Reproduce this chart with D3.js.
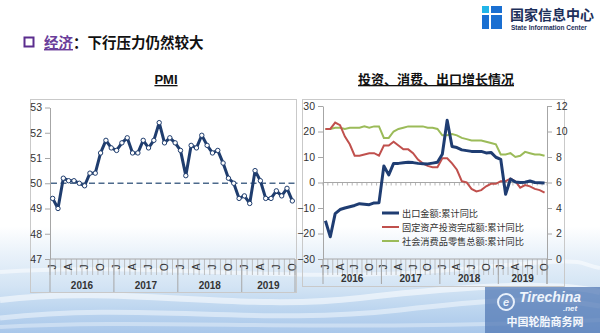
<!DOCTYPE html>
<html>
<head>
<meta charset="utf-8">
<script src="https://cdn.jsdelivr.net/npm/d3@7"></script>
<style>
  html, body { margin: 0; padding: 0; background: #fff; }
  svg { display: block; }
  text { font-family: "Liberation Sans", Arial, "Noto Sans CJK SC", sans-serif; }
  .cjk { font-family: "Noto Sans CJK SC", "Liberation Sans", sans-serif; }
</style>
</head>
<body>
<svg id="chart" width="600" height="333"></svg>
<script>
// ---- data: monthly, Jan 2016 – Oct 2019 ----
const years = ["2016", "2017", "2018", "2019"];
const quarterLabels = ["J", "A", "J", "O"];

// Manufacturing PMI
const pmi = [
  49.4, 49.0, 50.2, 50.1, 50.1, 50.0, 49.9, 50.4, 50.4, 51.2, 51.7, 51.4,
  51.3, 51.6, 51.8, 51.2, 51.2, 51.7, 51.4, 51.7, 52.4, 51.6, 51.8, 51.6,
  51.3, 50.3, 51.5, 51.4, 51.9, 51.5, 51.2, 51.3, 50.8, 50.2, 50.0, 49.4,
  49.5, 49.2, 50.5, 50.1, 49.4, 49.4, 49.7, 49.5, 49.8, 49.3
];
const pmiTicks = [47, 48, 49, 50, 51, 52, 53];

// Exports, cumulative YoY % (left axis)
const exportYoY = [
  -15.0, -21.3, -12.2, -10.6, -10.0, -9.5, -9.0, -8.3, -8.5, -8.7, -8.0, -7.9,
  6.5, 3.0, 7.5, 7.5, 7.7, 7.9, 7.8, 7.5, 7.4, 7.3, 7.6, 7.9,
  11.1, 24.4, 14.1, 13.7, 12.8, 12.5, 12.2, 12.2, 12.2, 11.6, 11.8, 9.9,
  9.1, -4.6, 1.4, 0.2, 0.0, 0.1, 0.6, 0.0, -0.1, -0.2
];
// Fixed-asset investment, cumulative YoY % (right axis)
const fixedInvestYoY = [
  10.2, 10.2, 10.7, 10.5, 9.6, 9.0, 8.1, 8.1, 8.2, 8.3, 8.3, 8.1,
  8.9, 8.9, 9.2, 8.9, 8.6, 8.6, 8.3, 7.8, 7.5, 7.3, 7.2, 7.2,
  7.9, 7.9, 7.5, 7.0, 6.1, 6.0, 5.5, 5.3, 5.4, 5.7, 5.9, 5.9,
  6.1, 6.1, 6.3, 6.1, 5.6, 5.8, 5.7, 5.5, 5.4, 5.2
];
// Retail sales of consumer goods, cumulative YoY % (right axis)
const retailYoY = [
  10.2, 10.2, 10.3, 10.3, 10.2, 10.3, 10.3, 10.3, 10.4, 10.3, 10.4, 10.4,
  9.5, 9.5, 10.0, 10.2, 10.3, 10.4, 10.4, 10.4, 10.4, 10.3, 10.3, 10.2,
  9.7, 9.7, 9.8, 9.7, 9.5, 9.4, 9.3, 9.3, 9.3, 9.2, 9.1, 9.0,
  8.2, 8.2, 8.3, 8.0, 8.1, 8.4, 8.3, 8.2, 8.2, 8.1
];
const leftTicks = [-30, -20, -10, 0, 10, 20, 30];
const rightTicks = [0, 2, 4, 6, 8, 10, 12];

const seriesNames = ["出口金额:累计同比", "固定资产投资完成额:累计同比", "社会消费品零售总额:累计同比"];
const seriesColors = ["#1f3d72", "#c0504d", "#9bbb59"];

const svg = d3.select("#chart");
const defs = svg.append("defs");

// ---- background with the soft blue wave band along the bottom ----
const bg = defs.append("linearGradient").attr("id", "bgGrad")
  .attr("x1", 0).attr("y1", 0).attr("x2", 0).attr("y2", 1);
[[0, "#ffffff"], [0.68, "#ffffff"], [0.76, "#eaf2fa"], [0.86, "#d3e4f4"], [0.93, "#bcd5ef"], [1, "#a9c7ea"]]
  .forEach(([o, c]) => bg.append("stop").attr("offset", o).attr("stop-color", c));
svg.append("rect").attr("width", 600).attr("height", 333).attr("fill", "url(#bgGrad)");

const waves = svg.append("g").attr("fill", "none").attr("stroke", "#ffffff");
[
  ["M0,300 C120,285 240,312 360,298 S560,282 600,292", 0.55, 6],
  ["M0,318 C140,302 260,326 400,310 S560,300 600,306", 0.45, 5],
  ["M0,272 C150,262 300,284 450,270 S570,262 600,268", 0.5, 4],
  ["M0,327 C160,318 320,333 600,320", 0.35, 4]
].forEach(([d, op, w]) => waves.append("path").attr("d", d).attr("stroke-opacity", op).attr("stroke-width", w));

// ---- header ----
const logo = svg.append("g");
logo.append("rect").attr("x", 482).attr("y", 6).attr("width", 7).attr("height", 7).attr("fill", "#22b5e8");
logo.append("rect").attr("x", 491).attr("y", 6).attr("width", 11).attr("height", 7).attr("fill", "#1a6fd1");
logo.append("rect").attr("x", 482).attr("y", 15).attr("width", 7).attr("height", 14).attr("fill", "#1a6fd1");
logo.append("rect").attr("x", 491).attr("y", 15).attr("width", 11).attr("height", 14).attr("fill", "#1a6fd1");
svg.append("text").attr("class", "cjk").attr("x", 510).attr("y", 20)
  .attr("font-size", 14).attr("font-weight", 700).attr("fill", "#1d2f5a").text("国家信息中心");
svg.append("text").attr("x", 511).attr("y", 30)
  .attr("font-size", 6.5).attr("font-weight", 700).attr("fill", "#1d2f5a").text("State Information Center");

svg.append("rect").attr("x", 24.5).attr("y", 37.5).attr("width", 9).attr("height", 9)
  .attr("fill", "none").attr("stroke", "#5b2d8e").attr("stroke-width", 2);
const heading = svg.append("text").attr("class", "cjk").attr("x", 44).attr("y", 48)
  .attr("font-size", 14.5).attr("font-weight", 700);
heading.append("tspan").attr("fill", "#6a3d9a").attr("text-decoration", "underline").text("经济");
heading.append("tspan").attr("fill", "#111").text("：下行压力仍然较大");

// ---- shared month/year category axis ----
function monthAxis(g, x, yAxis, yBottom, yYear) {
  const n = x.domain().length;
  const step = x.step();
  const x0 = x.range()[0];
  // month tick marks
  g.append("g").selectAll("line").data(d3.range(n + 1)).join("line")
    .attr("x1", i => x0 + i * step).attr("x2", i => x0 + i * step)
    .attr("y1", yAxis).attr("y2", yAxis + 16)
    .attr("stroke", "#b3b3b3").attr("stroke-width", 0.8);
  // quarter letters, rotated
  g.append("g").selectAll("text").data(d3.range(n).filter(i => i % 3 === 0)).join("text")
    .attr("transform", i => `translate(${x(i) + step / 2 + 3.5},${yAxis + 8}) rotate(-90)`)
    .attr("text-anchor", "middle").attr("font-size", 10).attr("fill", "#333")
    .text(i => quarterLabels[(i % 12) / 3]);
  // year separators and labels
  g.append("g").selectAll("line").data(years.map((_, k) => k * 12).concat([n])).join("line")
    .attr("x1", i => x0 + i * step).attr("x2", i => x0 + i * step)
    .attr("y1", yAxis).attr("y2", yBottom)
    .attr("stroke", "#a6a6a6").attr("stroke-width", 1);
  g.append("g").selectAll("text").data(years).join("text")
    .attr("x", (_, k) => x0 + (k * 12 + Math.min(12, n - k * 12) / 2) * step)
    .attr("y", yYear).attr("text-anchor", "middle")
    .attr("font-size", 10).attr("font-weight", 700).attr("fill", "#333")
    .text(d => d);
  // axis line
  g.append("line").attr("x1", x0).attr("x2", x0 + n * step).attr("y1", yAxis).attr("y2", yAxis)
    .attr("stroke", "#a6a6a6").attr("stroke-width", 1);
}

function styleAxis(g) {
  g.select(".domain").attr("stroke", "#a6a6a6");
  g.selectAll(".tick line").attr("stroke", "#a6a6a6");
  g.selectAll(".tick text").attr("fill", "#333").attr("font-size", 10.5);
}

// ================= left panel: PMI =================
const L = svg.append("g");
L.append("rect").attr("x", 30.5).attr("y", 99.5).attr("width", 266).attr("height", 193)
  .attr("fill", "none").attr("stroke", "#c9c9c9");
L.append("text").attr("x", 166).attr("y", 84).attr("text-anchor", "middle")
  .attr("font-size", 13).attr("font-weight", 700).attr("fill", "#111")
  .attr("text-decoration", "underline").text("PMI");

const xL = d3.scaleBand().domain(d3.range(pmi.length)).range([50, 295]).paddingInner(0).paddingOuter(0);
const yL = d3.scaleLinear().domain([47, 53]).range([259, 107.5]);

L.append("g").attr("transform", "translate(50,0)")
  .call(d3.axisLeft(yL).tickValues(pmiTicks).tickFormat(d3.format("d")).tickSize(5).tickPadding(3).tickSizeOuter(0))
  .call(styleAxis);
monthAxis(L.append("g"), xL, 259, 292, 289);

L.append("line").attr("x1", 51).attr("x2", 296).attr("y1", yL(50)).attr("y2", yL(50))
  .attr("stroke", "#4d6a8c").attr("stroke-width", 1.6).attr("stroke-dasharray", "6,3.5");

const cxL = i => xL(i) + xL.bandwidth() / 2;
L.append("path").datum(pmi)
  .attr("d", d3.line().x((_, i) => cxL(i)).y(d => yL(d)))
  .attr("fill", "none").attr("stroke", "#1f3d6e").attr("stroke-width", 3).attr("stroke-linejoin", "round");
L.append("g").selectAll("circle").data(pmi).join("circle")
  .attr("cx", (_, i) => cxL(i)).attr("cy", d => yL(d)).attr("r", 2.2)
  .attr("fill", "#fff").attr("stroke", "#1f3d6e").attr("stroke-width", 1);

// ================= right panel: investment, consumption, exports =================
const R = svg.append("g");
R.append("rect").attr("x", 302.5).attr("y", 99.5).attr("width", 262).attr("height", 187)
  .attr("fill", "none").attr("stroke", "#c9c9c9");
R.append("text").attr("class", "cjk").attr("x", 436).attr("y", 84).attr("text-anchor", "middle")
  .attr("font-size", 13).attr("font-weight", 700).attr("fill", "#111")
  .attr("text-decoration", "underline").text("投资、消费、出口增长情况");

const xR = d3.scaleBand().domain(d3.range(exportYoY.length)).range([323, 547]).paddingInner(0).paddingOuter(0);
const yRL = d3.scaleLinear().domain([-30, 30]).range([259, 106]);
const yRR = d3.scaleLinear().domain([0, 12]).range([259, 106]);

R.append("g").attr("transform", "translate(323,0)")
  .call(d3.axisLeft(yRL).tickValues(leftTicks).tickSize(5).tickPadding(3).tickSizeOuter(0))
  .call(styleAxis);
R.append("g").attr("transform", "translate(547,0)")
  .call(d3.axisRight(yRR).tickValues(rightTicks).tickSize(5).tickPadding(4).tickSizeOuter(0))
  .call(styleAxis);
R.append("line").attr("x1", 547).attr("x2", 547).attr("y1", 259).attr("y2", 284)
  .attr("stroke", "#a6a6a6");
monthAxis(R.append("g"), xR, 259, 284, 282);

// zero line with month ticks
R.append("line").attr("x1", 323).attr("x2", 547).attr("y1", yRL(0)).attr("y2", yRL(0))
  .attr("stroke", "#a6a6a6").attr("stroke-width", 1);
R.append("g").selectAll("line").data(d3.range(exportYoY.length + 1)).join("line")
  .attr("x1", i => 323 + i * xR.step()).attr("x2", i => 323 + i * xR.step())
  .attr("y1", yRL(0)).attr("y2", yRL(0) + 3)
  .attr("stroke", "#a6a6a6").attr("stroke-width", 0.8);

const cxR = i => xR(i) + xR.bandwidth() / 2;
const lineOf = (y) => d3.line().x((_, i) => cxR(i)).y(d => y(d));
R.append("path").datum(retailYoY).attr("d", lineOf(yRR))
  .attr("fill", "none").attr("stroke", seriesColors[2]).attr("stroke-width", 2);
R.append("path").datum(fixedInvestYoY).attr("d", lineOf(yRR))
  .attr("fill", "none").attr("stroke", seriesColors[1]).attr("stroke-width", 2);
R.append("path").datum(exportYoY).attr("d", lineOf(yRL))
  .attr("fill", "none").attr("stroke", seriesColors[0]).attr("stroke-width", 3).attr("stroke-linejoin", "round");

// legend
const lg = R.append("g").attr("transform", "translate(382,213)");
seriesNames.forEach((name, k) => {
  const row = lg.append("g").attr("transform", `translate(0,${k * 14})`);
  row.append("line").attr("x1", 0).attr("x2", 17).attr("y1", 0).attr("y2", 0)
    .attr("stroke", seriesColors[k]).attr("stroke-width", k === 0 ? 3 : 2);
  row.append("text").attr("class", "cjk").attr("x", 20).attr("y", 3.5)
    .attr("font-size", 9.2).attr("fill", "#333").text(name);
});

// ---- site mark in the lower right corner ----
const wm = svg.append("g");
wm.append("rect").attr("x", 485).attr("y", 287).attr("width", 115).attr("height", 46)
  .attr("fill", "#4f76b3").attr("fill-opacity", 0.72);
wm.append("circle").attr("cx", 506).attr("cy", 302).attr("r", 8)
  .attr("fill", "none").attr("stroke", "#e8f0fb").attr("stroke-width", 2);
wm.append("text").attr("x", 506).attr("y", 306).attr("text-anchor", "middle")
  .attr("font-size", 11).attr("font-weight", 700).attr("font-style", "italic").attr("fill", "#e8f0fb").text("e");
wm.append("text").attr("x", 519).attr("y", 302)
  .attr("font-size", 14).attr("font-weight", 700).attr("font-style", "italic").attr("fill", "#eef4fc").text("Tirechina");
wm.append("text").attr("x", 563).attr("y", 311)
  .attr("font-size", 8).attr("font-weight", 700).attr("font-style", "italic").attr("fill", "#eef4fc").text(".net");
wm.append("text").attr("class", "cjk").attr("x", 545).attr("y", 326).attr("text-anchor", "middle")
  .attr("font-size", 11).attr("font-weight", 700).attr("fill", "#f4f7fc").text("中国轮胎商务网");
</script>
</body>
</html>
